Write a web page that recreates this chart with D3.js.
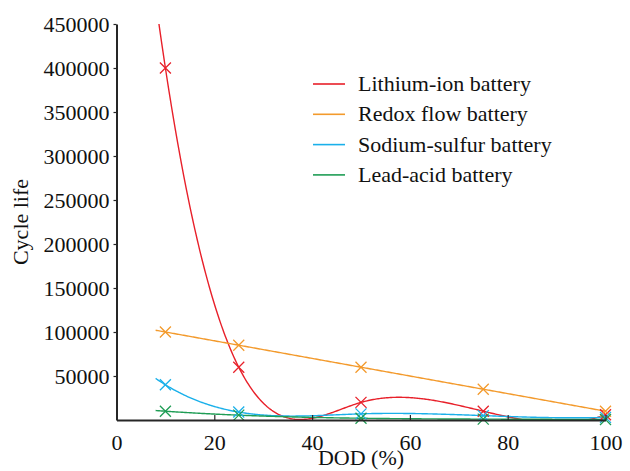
<!DOCTYPE html>
<html>
<head>
<meta charset="utf-8">
<script src="https://cdn.jsdelivr.net/npm/d3@7/dist/d3.min.js"></script>
<style>
  html, body { margin: 0; padding: 0; background: #fff; }
  svg { display: block; }
  svg text { font-family: "Liberation Serif", "Times New Roman", serif; }
</style>
</head>
<body>
<svg id="chart" width="630" height="471"></svg>
<script>
// ---- data ----
const dod = [10, 25, 50, 75, 100];
const lithium = [400000, 60000, 20000, 10000, 6000];
const redox = [100000, 85000, 60000, 35000, 10000];
const sodium = [40000, 9000, 7000, 5000, 3000];
const leadAcid = [10000, 5500, 2000, 1000, 500];
const seriesNames = ["Lithium-ion battery", "Redox flow battery", "Sodium-sulfur battery", "Lead-acid battery"];
const seriesColors = ["#e8202a", "#f39a2c", "#1ab0ea", "#1f9d55"];
const xTicks = [0, 20, 40, 60, 80, 100];
const yTicks = [50000, 100000, 150000, 200000, 250000, 300000, 350000, 400000, 450000];
const curveStart = 8;   // fitted curves are drawn from DOD = 8 %
const curveEnd = 100;

const allSeries = [lithium, redox, sodium, leadAcid];

const svg = d3.select("#chart");
const x = d3.scaleLinear().domain([0, 100]).range([116.5, 605.5]);
const y = d3.scaleLinear().domain([0, 450000]).range([420, 24]);

// not-a-knot cubic spline (like MATLAB spline) used for the smooth curves
function notAKnotSpline(xs, ys) {
  const n = xs.length;
  const h = [];
  for (let i = 0; i < n - 1; i++) h.push(xs[i + 1] - xs[i]);
  const A = [], b = [];
  for (let i = 0; i < n; i++) { A.push(new Array(n).fill(0)); b.push(0); }
  A[0][0] = -h[1]; A[0][1] = h[0] + h[1]; A[0][2] = -h[0];
  for (let i = 1; i < n - 1; i++) {
    A[i][i - 1] = h[i - 1];
    A[i][i] = 2 * (h[i - 1] + h[i]);
    A[i][i + 1] = h[i];
    b[i] = 6 * ((ys[i + 1] - ys[i]) / h[i] - (ys[i] - ys[i - 1]) / h[i - 1]);
  }
  A[n - 1][n - 3] = -h[n - 2]; A[n - 1][n - 2] = h[n - 2] + h[n - 3]; A[n - 1][n - 1] = -h[n - 3];
  for (let c = 0; c < n; c++) {
    let p = c;
    for (let r = c + 1; r < n; r++) if (Math.abs(A[r][c]) > Math.abs(A[p][c])) p = r;
    [A[c], A[p]] = [A[p], A[c]]; [b[c], b[p]] = [b[p], b[c]];
    for (let r = c + 1; r < n; r++) {
      const f = A[r][c] / A[c][c];
      for (let k = c; k < n; k++) A[r][k] -= f * A[c][k];
      b[r] -= f * b[c];
    }
  }
  const M = new Array(n).fill(0);
  for (let r = n - 1; r >= 0; r--) {
    let s = b[r];
    for (let k = r + 1; k < n; k++) s -= A[r][k] * M[k];
    M[r] = s / A[r][r];
  }
  return function (t) {
    let i = 0;
    while (i < n - 2 && t > xs[i + 1]) i++;
    const hi = h[i], a = xs[i + 1] - t, c = t - xs[i];
    return M[i] * a * a * a / (6 * hi) + M[i + 1] * c * c * c / (6 * hi)
      + (ys[i] / hi - M[i] * hi / 6) * a + (ys[i + 1] / hi - M[i + 1] * hi / 6) * c;
  };
}

// clip for plot area
svg.append("defs").append("clipPath").attr("id", "plotclip")
  .append("rect").attr("x", x(0)).attr("y", y(450000))
  .attr("width", x(100) - x(0) + 8).attr("height", y(0) - y(450000) + 0.5);

const line = d3.line().x(d => x(d[0])).y(d => y(d[1]));
const plot = svg.append("g").attr("clip-path", "url(#plotclip)");
const markers = svg.append("g");

allSeries.forEach((vals, si) => {
  const f = notAKnotSpline(dod, vals);
  const steps = d3.range(curveStart, curveEnd + 0.001, 0.25);
  plot.append("path")
    .attr("d", line(steps.map(t => [t, f(t)])))
    .attr("fill", "none")
    .attr("stroke", seriesColors[si])
    .attr("stroke-width", 1.4);
  const s = 5.5;
  markers.selectAll(null).data(dod.map((d, i) => [d, vals[i]])).enter()
    .append("path")
    .attr("d", d => {
      const cx = x(d[0]), cy = y(d[1]);
      return `M${cx - s},${cy - s}L${cx + s},${cy + s}M${cx - s},${cy + s}L${cx + s},${cy - s}`;
    })
    .attr("stroke", seriesColors[si])
    .attr("stroke-width", 1.3)
    .attr("fill", "none");
});

// axes
const axisColor = "#262626";
const fmt = d3.format("d");
const xAxis = svg.append("g").attr("transform", `translate(0,${y(0)})`)
  .call(d3.axisBottom(x).tickValues(xTicks).tickFormat(fmt).tickSize(-5).tickPadding(14).tickSizeOuter(0));
const yAxis = svg.append("g").attr("transform", `translate(${x(0)},0)`)
  .call(d3.axisLeft(y).tickValues(yTicks).tickFormat(fmt).tickSize(3).tickPadding(4).tickSizeOuter(0));
[xAxis, yAxis].forEach(g => {
  g.attr("font-family", null).attr("font-size", null);
  g.select(".domain").attr("stroke", axisColor).attr("stroke-width", 2);
  g.selectAll(".tick line").attr("stroke", axisColor).attr("stroke-width", 1.2);
  g.selectAll(".tick text").attr("fill", "#111")
    .style("font-size", "22px")
    .style("font-family", "'Liberation Serif', 'Times New Roman', serif");
});
xAxis.selectAll(".tick text").attr("dy", "0.71em");
yAxis.selectAll(".tick text").attr("dy", "0.34em");

// axis titles
svg.append("text").attr("x", (x(0) + x(100)) / 2).attr("y", 465)
  .attr("text-anchor", "middle").style("font-size", "22px").attr("fill", "#111").text("DOD (%)");
svg.append("text").attr("transform", `translate(28,${(y(0) + y(450000)) / 2}) rotate(-90)`)
  .attr("text-anchor", "middle").style("font-size", "22px").attr("fill", "#111").text("Cycle life");

// legend
const legend = svg.append("g");
seriesNames.forEach((name, i) => {
  const ly = 84 + i * 30.3;
  legend.append("line").attr("x1", 313).attr("x2", 345).attr("y1", ly).attr("y2", ly)
    .attr("stroke", seriesColors[i]).attr("stroke-width", 1.6);
  legend.append("text").attr("x", 358).attr("y", ly + 7).style("font-size", "22px")
    .attr("fill", "#111").text(name);
});
</script>
</body>
</html>
